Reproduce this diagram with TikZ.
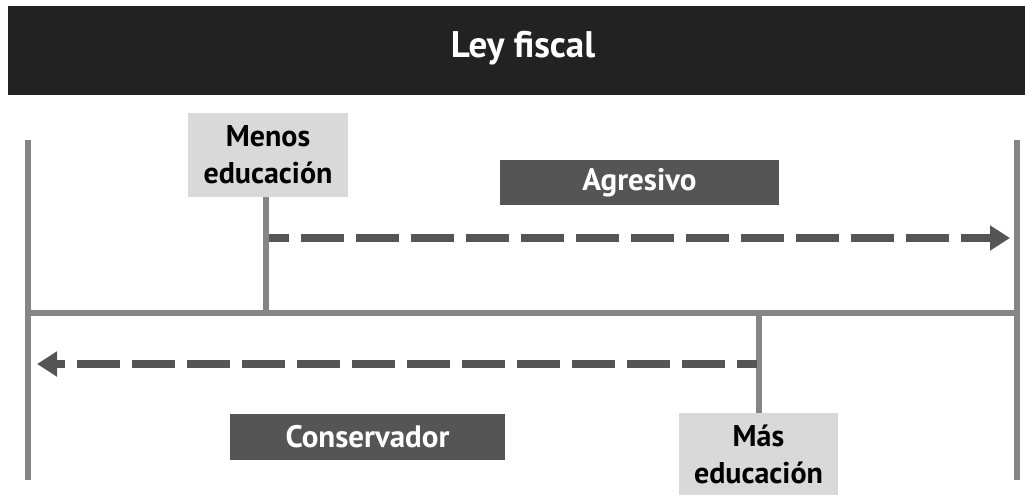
\documentclass[tikz,border=0pt]{standalone}
\usepackage{fontspec}
\setmainfont{PT Sans}
\usetikzlibrary{arrows.meta}
\definecolor{barcol}{HTML}{222222}
\definecolor{darkbox}{HTML}{555555}
\definecolor{lightbox}{HTML}{D9D9D9}
\definecolor{linecol}{HTML}{858585}
\definecolor{dashcol}{HTML}{555555}
\tikzset{
  axisline/.style={draw=linecol, line width=6pt},
  dasharrow/.style={draw=dashcol, line width=8pt, dash pattern=on 43pt off 12pt, dash phase=23pt,
    -{Triangle[length=20pt,width=24pt]}},
  lightlabel/.style={fill=lightbox, text=black, font=\bfseries\fontsize{30}{37}\selectfont, align=center, inner sep=0pt},
  darklabel/.style={fill=darkbox, text=white, font=\bfseries\fontsize{31}{34}\selectfont, inner sep=0pt},
}
\begin{document}
\begin{tikzpicture}[x=1pt,y=-1pt]
\useasboundingbox (0,0) rectangle (1025,495);
% title bar
\node[fill=barcol, minimum width=1017pt, minimum height=89pt, inner sep=0pt, anchor=north west] (bar) at (8,6) {};
\node[text=white, font=\bfseries\fontsize{37}{40}\selectfont] (title) at (523,48) {Ley fiscal};
% axis coordinates
\coordinate (ltop) at (28,140);
\coordinate (lbot) at (28,480);
\coordinate (rtop) at (1017,140);
\coordinate (rbot) at (1017,480);
\coordinate (mleft) at (28,313);
\coordinate (mright) at (1017,313);
\coordinate (menosfoot) at (266,313);
\coordinate (masfoot) at (759,313);
% labels
\node[lightlabel, minimum width=160pt, minimum height=84pt] (menos) at (268,155) {Menos\\educación};
\node[lightlabel, minimum width=159pt, minimum height=82pt, anchor=north] (mas) at (758.5,413) {Más\\educación};
\node[darklabel, minimum width=279pt, minimum height=45pt] (agresivo) at (639.5,182.5) {Agresivo};
\node[darklabel, minimum width=275pt, minimum height=46pt] (conserv) at (367.5,437) {Conservador};
% lines
\draw[axisline] (ltop) -- (lbot);
\draw[axisline] (rtop) -- (rbot);
\draw[axisline] (mleft) -- (mright);
\draw[axisline] (menos.south -| menosfoot) -- (menosfoot);
\draw[axisline] (masfoot) -- (mas.north -| masfoot);
% dashed arrows
\coordinate (a1s) at (269,238);
\coordinate (a1e) at (1010,238);
\coordinate (a2s) at (757,364);
\coordinate (a2e) at (37,364);
\draw[dasharrow] (a1s) -- (a1e);
\draw[dasharrow] (a2s) -- (a2e);
\end{tikzpicture}
\end{document}
